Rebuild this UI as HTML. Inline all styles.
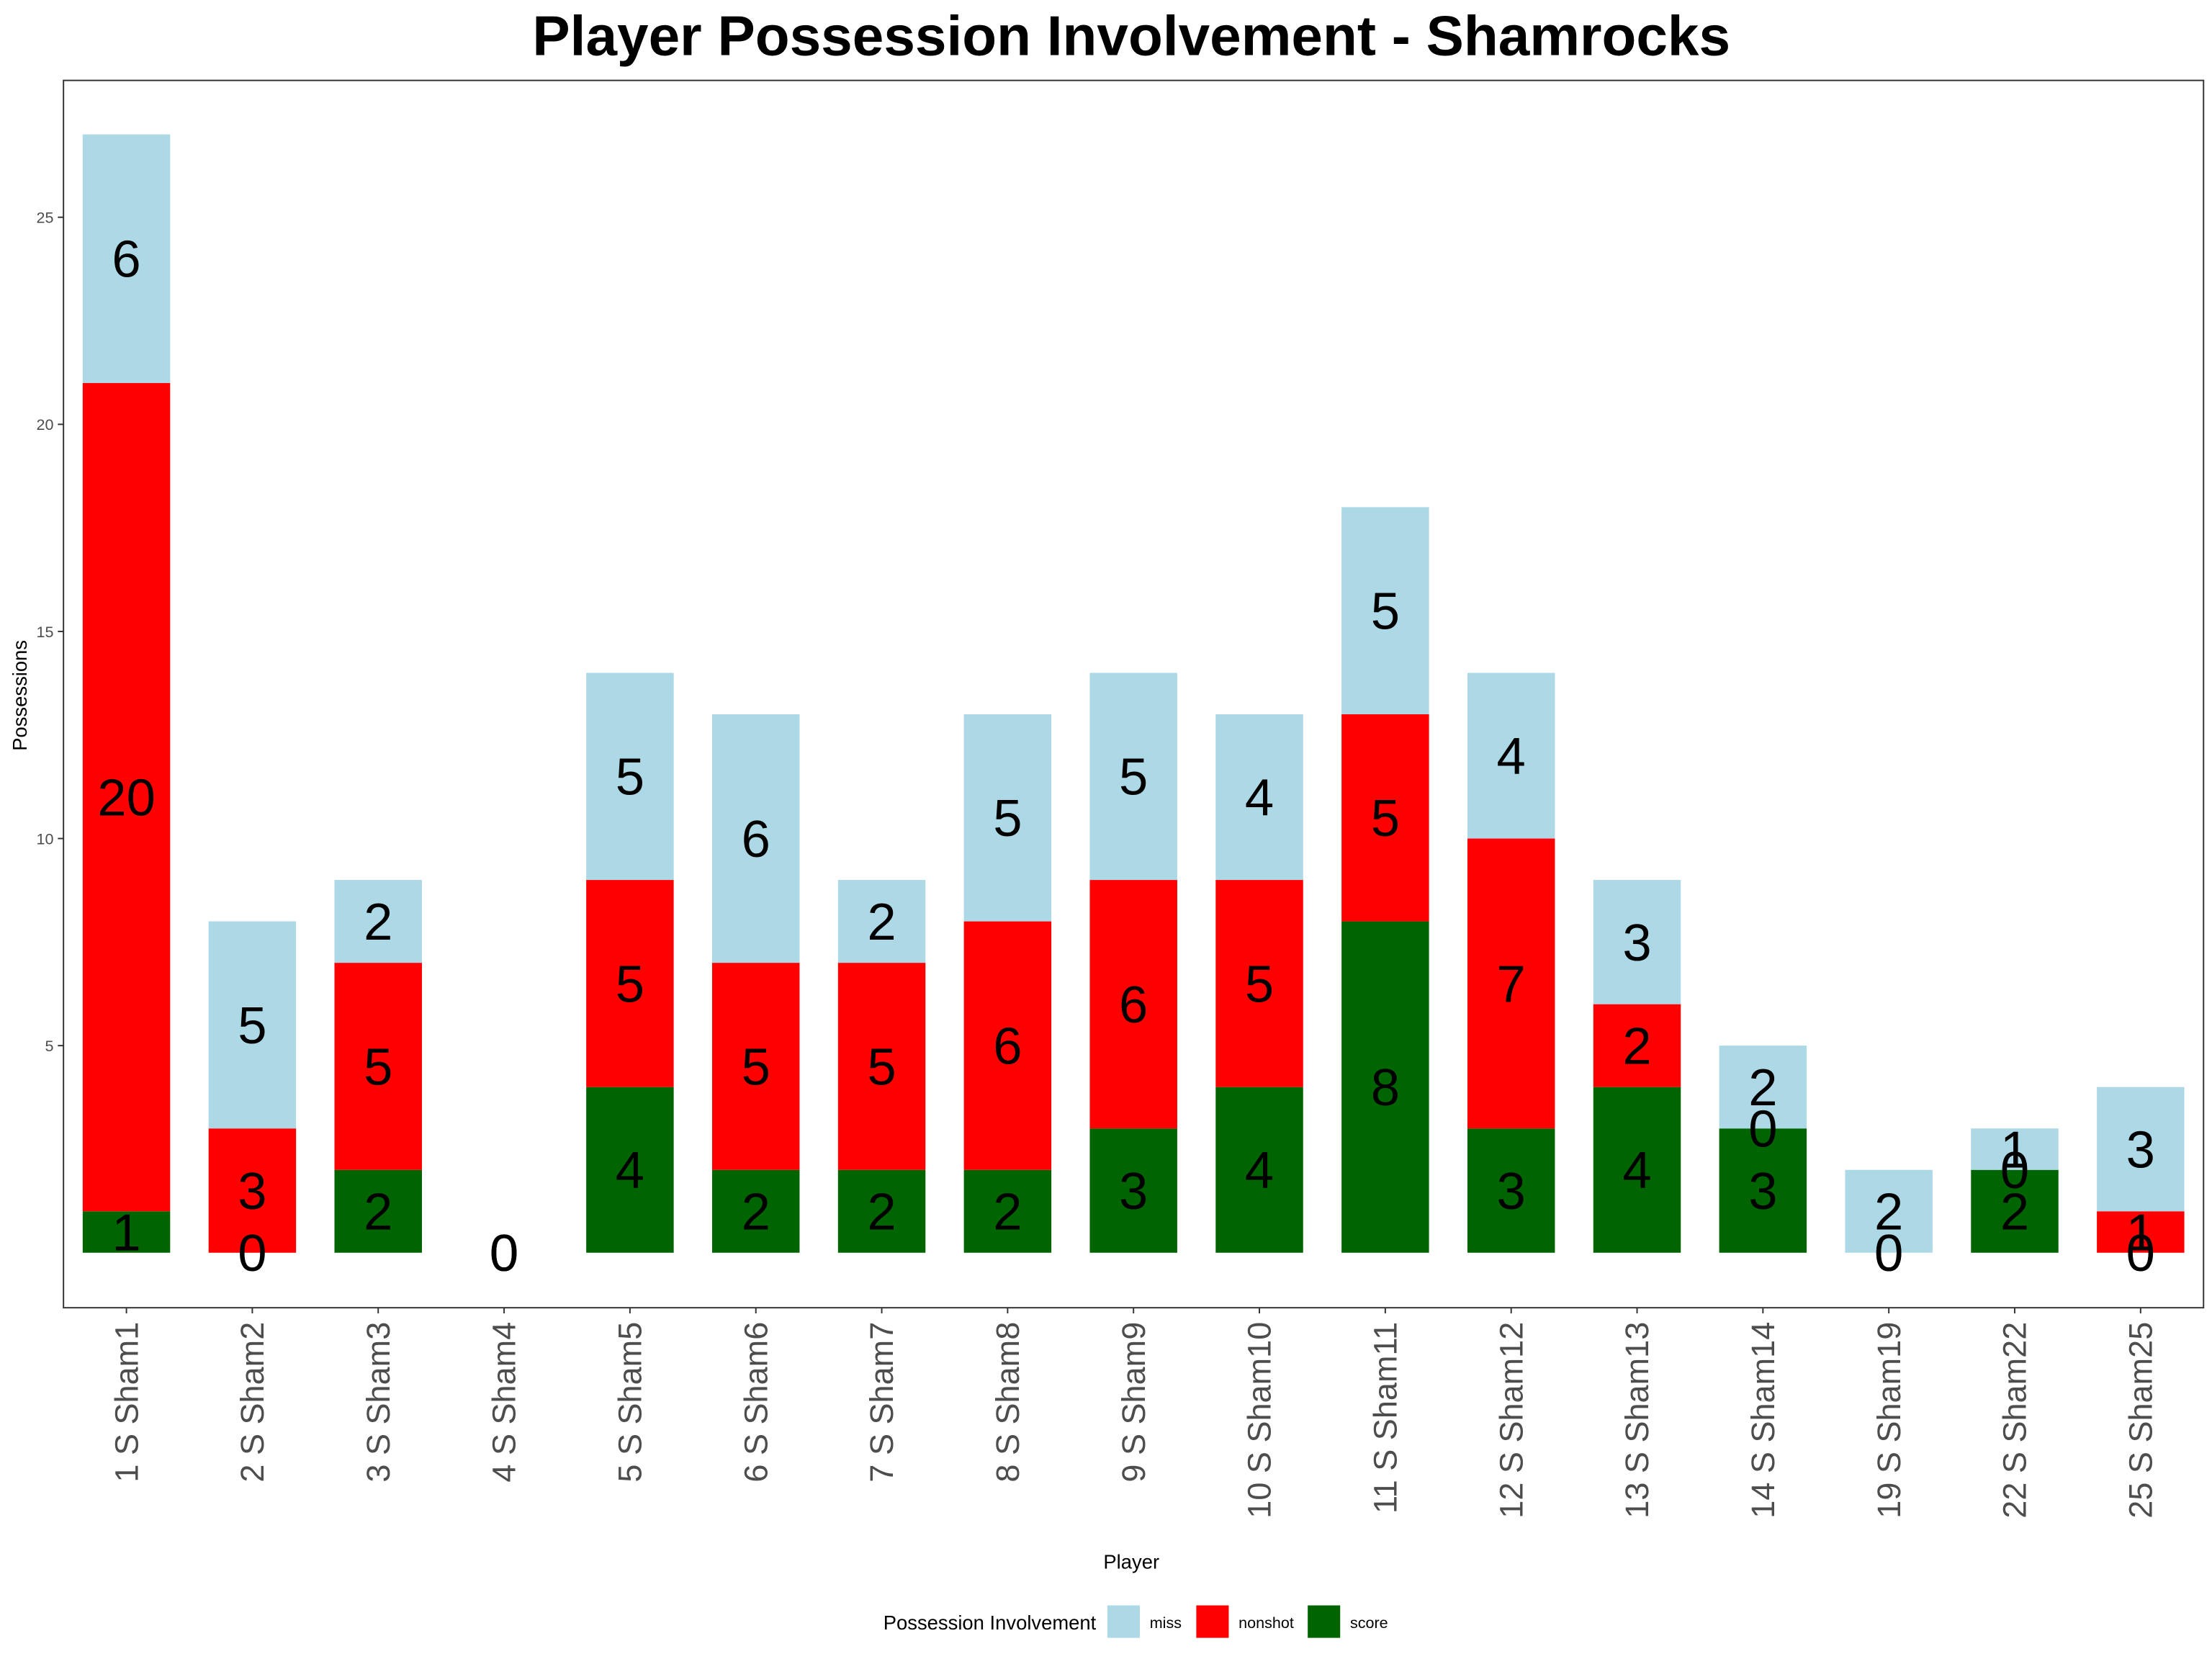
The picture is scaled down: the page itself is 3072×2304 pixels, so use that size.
<!DOCTYPE html>
<html><head><meta charset="utf-8"><style>
html,body{margin:0;padding:0;background:#fff;}
svg{display:block;font-family:"Liberation Sans",Arial,sans-serif;}
</style></head><body>
<svg id="chart" width="3072" height="2304" viewBox="0 0 1568 1176" xmlns="http://www.w3.org/2000/svg">
<rect x="0" y="0" width="1568" height="1176" fill="#fff"/>
<text x="802" y="39" text-anchor="middle" font-size="40" font-weight="bold" fill="#000">Player Possession Involvement - Shamrocks</text>
<g id="plot"></g>
<text x="802" y="1112" text-anchor="middle" font-size="14" fill="#000">Player</text>
<text transform="translate(19,493) rotate(-90)" text-anchor="middle" font-size="14" fill="#000">Possessions</text>
<g>
<text x="777" y="1155" text-anchor="end" font-size="14" fill="#000">Possession Involvement</text>
<rect x="785" y="1138" width="23" height="23" fill="#ADD8E6"/>
<text x="815" y="1154" font-size="11" fill="#000">miss</text>
<rect x="848" y="1138" width="23" height="23" fill="#FF0000"/>
<text x="878" y="1154" font-size="11" fill="#000">nonshot</text>
<rect x="927" y="1138" width="23" height="23" fill="#006400"/>
<text x="957" y="1154" font-size="11" fill="#000">score</text>
</g>
</svg>
<script>
const players = ["1 S Sham1","2 S Sham2","3 S Sham3","4 S Sham4","5 S Sham5","6 S Sham6","7 S Sham7","8 S Sham8","9 S Sham9","10 S Sham10","11 S Sham11","12 S Sham12","13 S Sham13","14 S Sham14","19 S Sham19","22 S Sham22","25 S Sham25"];
const scoreVals = [1,0,2,0,4,2,2,2,3,4,8,3,4,3,0,2,0];
const nonshotVals = [20,3,5,0,5,5,5,6,6,5,5,7,2,0,0,0,1];
const missVals = [6,5,2,0,5,6,2,5,5,4,5,4,3,2,2,1,3];
const yTicks = [5,10,15,20,25];

const NS = "http://www.w3.org/2000/svg";
const g = document.getElementById('plot');
const L=45,R=1562,T=57,B=927;
const y0=888, pxPerUnit=29.36;
function yScale(v){return y0 - v*pxPerUnit;}
const step=(R-L)/players.length;
function xScale(i){return L+step*(i+0.5);}
const barW=62;
function mk(tag,attrs){const e=document.createElementNS(NS,tag);for(const k in attrs)e.setAttribute(k,attrs[k]);g.appendChild(e);return e;}

const series=[["score",scoreVals,"#006400"],["nonshot",nonshotVals,"#FF0000"],["miss",missVals,"#ADD8E6"]];
const labels=[];
players.forEach((p,i)=>{
  let base=0;
  series.forEach(([nm,vals,col])=>{
    const v=vals[i];
    const r=mk('rect',{x:xScale(i)-barW/2,y:yScale(base+v),width:barW,height:v*pxPerUnit,fill:col});
    
    
    labels.push([xScale(i),yScale(base+v/2),v,nm,i]);
    base+=v;
  });
});
labels.forEach(([x,y,v,nm,i])=>{
  const t=mk('text',{x:x,y:y+13,'text-anchor':'middle','font-size':'37',fill:'#000'});
  
  
  t.textContent=v;
});
const border=mk('rect',{x:L,y:T,width:R-L,height:B-T,fill:'none',stroke:'#333',"stroke-width":1});


yTicks.forEach(v=>{
  const y=yScale(v);
  const tk=mk('line',{x1:L-4,x2:L,y1:y,y2:y,stroke:'#333'});
  
  
  const t=mk('text',{x:L-7,y:y+4,'text-anchor':'end','font-size':'11',fill:'#4d4d4d'});
  
  
  t.textContent=v;
});
players.forEach((p,i)=>{
  const x=xScale(i);
  const tk=mk('line',{x1:x,x2:x,y1:B,y2:B+4,stroke:'#333'});
  
  
  const t=mk('text',{transform:`translate(${x+8},${B+10}) rotate(-90)`,'text-anchor':'end','font-size':'23',fill:'#4d4d4d'});
  
  
  t.textContent=p;
});
</script>
</body></html>
